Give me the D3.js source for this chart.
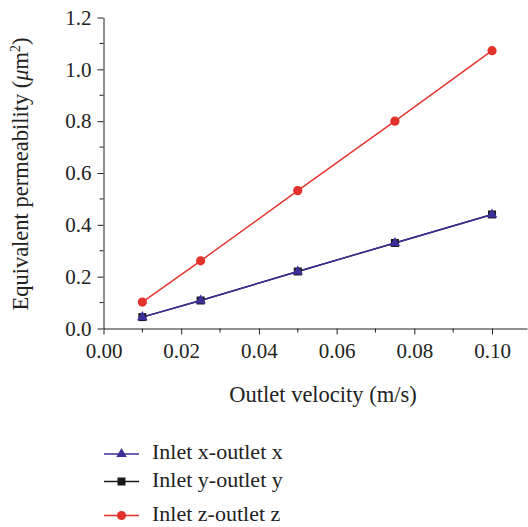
<!DOCTYPE html>
<html><head><meta charset="utf-8">
<script src="https://cdn.jsdelivr.net/npm/d3@7"></script>
<style>body{margin:0;background:#fff}</style>
</head><body>
<script>
const velocities = [0.01, 0.025, 0.05, 0.075, 0.1];
const seriesX = [0.044, 0.108, 0.22, 0.33, 0.44];
const seriesY = [0.044, 0.108, 0.22, 0.33, 0.44];
const seriesZ = [0.102, 0.261, 0.532, 0.80, 1.072];
const xTicks = [0, 0.02, 0.04, 0.06, 0.08, 0.10];
const yTicks = [0, 0.2, 0.4, 0.6, 0.8, 1.0, 1.2];
const seriesNames = ["Inlet x-outlet x", "Inlet y-outlet y", "Inlet z-outlet z"];

const W = 528, H = 527;
const font = "'Liberation Serif', 'DejaVu Serif', serif";
const svg = d3.select("body").append("svg").attr("width", W).attr("height", H);
const x = d3.scaleLinear().domain([0, 0.109]).range([103.5, 527]);
const y = d3.scaleLinear().domain([0, 1.2]).range([328.5, 17.5]);

const colors = ["#3b2f9c", "#1a1a1a", "#e3322b"];
const all = [seriesX, seriesY, seriesZ];

// axes
const xAxis = d3.axisBottom(x).tickValues(xTicks).tickFormat(d3.format(".2f")).tickSize(6).tickSizeOuter(0);
const gx = svg.append("g").attr("transform", `translate(0,${y(0)})`).call(xAxis);
gx.selectAll("text").attr("font-family", font).attr("font-size", 21).attr("fill", "#222").attr("y", 29).attr("dy", 0);
gx.append("g").selectAll("line").data([0.01,0.03,0.05,0.07,0.09]).join("line")
  .attr("x1", d=>x(d)).attr("x2", d=>x(d)).attr("y1",0).attr("y2",4).attr("stroke","#222");

const yAxis = d3.axisLeft(y).tickValues(yTicks).tickFormat(d3.format(".1f")).tickSize(6).tickSizeOuter(0);
const gy = svg.append("g").attr("transform", `translate(${x(0)},0)`).call(yAxis);
gy.selectAll("text").attr("font-family", font).attr("font-size", 21).attr("fill", "#222").attr("x", -12);
gy.append("g").selectAll("line").data([0.1,0.3,0.5,0.7,0.9,1.1]).join("line")
  .attr("y1", d=>y(d)).attr("y2", d=>y(d)).attr("x1",0).attr("x2",-4).attr("stroke","#222");
svg.selectAll(".domain, .tick line").attr("stroke", "#222");

// lines
const line = d3.line().x((d,i)=>x(velocities[i])).y(d=>y(d));
const order = [1, 0, 2];
order.forEach(k => {
  svg.append("path").datum(all[k]).attr("d", line).attr("fill","none").attr("stroke", colors[k]).attr("stroke-width", 1.4);
});
function marker(g, k, cx, cy) {
  if (k === 0) g.append("path").attr("d", d3.symbol(d3.symbolTriangle, 48)()).attr("transform", `translate(${cx},${cy})`).attr("fill", colors[0]);
  else if (k === 1) g.append("rect").attr("x", cx-4).attr("y", cy-4).attr("width", 8).attr("height", 8).attr("fill", colors[1]);
  else g.append("circle").attr("cx", cx).attr("cy", cy).attr("r", 4.6).attr("fill", colors[2]);
}
order.forEach(k => {
  const g = svg.append("g");
  all[k].forEach((v,i) => marker(g, k, x(velocities[i]), y(v)));
});

// axis labels
svg.append("text").attr("x", 323).attr("y", 402).attr("text-anchor","middle")
  .attr("font-family", font).attr("font-size", 22.5).attr("fill","#222").text("Outlet velocity (m/s)");
const yl = svg.append("text").attr("transform", "translate(28,174) rotate(-90)").attr("text-anchor","middle")
  .attr("font-family", font).attr("font-size", 22.5).attr("fill","#222");
yl.append("tspan").text("Equivalent permeability (");
yl.append("tspan").attr("font-style","italic").text("μ");
yl.append("tspan").text("m");
yl.append("tspan").attr("font-size", 14).attr("dy", -8).text("2");
yl.append("tspan").attr("dy", 8).text(")");

// legend
const ly = [454, 481.5, 515.5];
seriesNames.forEach((name, k) => {
  const g = svg.append("g");
  g.append("line").attr("x1", 104).attr("x2", 139).attr("y1", ly[k]).attr("y2", ly[k]).attr("stroke", colors[k]).attr("stroke-width", 1.4);
  marker(g, k, 121.5, ly[k]);
  g.append("text").attr("x", 152).attr("y", ly[k] + 5).attr("font-family", font).attr("font-size", 22).attr("fill","#222").text(name);
});
</script>
</body></html>
